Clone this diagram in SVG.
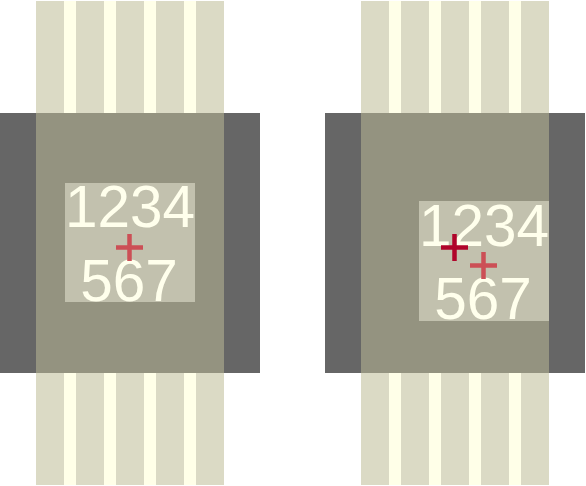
<svg xmlns="http://www.w3.org/2000/svg" width="586" height="486" viewBox="0 0 586 486">
<defs>
<style>
.side{fill:#666666}
.body{fill:#949380}
.pin{fill:#dbdac5}
.gap{fill:#ffffe8}
.box{fill:#c2c1ae}
.lbl{font-family:"Liberation Sans",Arial,sans-serif;font-size:58.5px;fill:#ffffec;text-anchor:middle}
.cross{stroke-width:4.5;fill:none}
.c1{stroke:#cc4f56}
.c2{stroke:#b0042a}
</style>
<g id="pins">
<rect class="pin" x="36" y="0" width="188" height="112"/>
<rect class="gap" x="64" y="0" width="12" height="112"/>
<rect class="gap" x="104" y="0" width="12" height="112"/>
<rect class="gap" x="144" y="0" width="12" height="112"/>
<rect class="gap" x="184" y="0" width="12" height="112"/>
</g>
</defs>
<g id="left">
<rect class="side" x="0" y="113" width="260" height="260"/>
<rect class="body" x="36" y="113" width="188" height="260"/>
<use href="#pins" x="0" y="1"/>
<use href="#pins" x="0" y="373"/>
<rect class="box" x="65" y="183" width="130" height="119"/>
<text class="lbl" x="130" y="227">1234</text>
<text class="lbl" x="129" y="300.5">567</text>
<path class="cross c1" d="M116 247.5H143M129.5 234V261"/>
</g>
<g id="right">
<rect class="side" x="325" y="113" width="260" height="260"/>
<rect class="body" x="361" y="113" width="188" height="260"/>
<use href="#pins" x="325" y="1"/>
<use href="#pins" x="325" y="373"/>
<rect class="box" x="419" y="201" width="130" height="120"/>
<text class="lbl" x="484" y="246">1234</text>
<text class="lbl" x="483" y="319">567</text>
<path class="cross c2" d="M441 247.5H468M454.5 234V261"/>
<path class="cross c1" d="M470 265.5H497M483.5 252V279"/>
</g>
</svg>
